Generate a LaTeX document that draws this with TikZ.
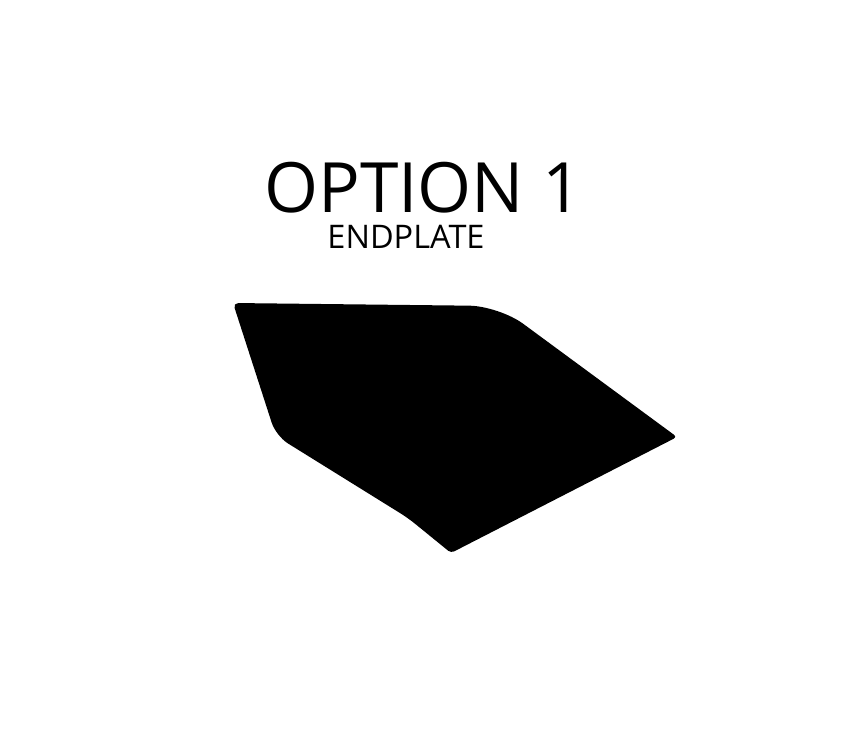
\documentclass[tikz,border=0pt]{standalone}
\usepackage{fontspec}
\setmainfont{Open Sans}
\usetikzlibrary{calc}

\begin{document}
\begin{tikzpicture}[x=0.02cm, y=-0.02cm]
			%%%%% START %%%%%
			
			\useasboundingbox (0, 0) rectangle (862, 744);
			
			\node[anchor=base, inner sep=0, text depth=0pt] (title) at (423, 212) {\fontsize{39.5}{46}\selectfont OPTION 1};
			\node[anchor=base, inner sep=0, text depth=0pt] (subtitle) at (406, 248) {\fontsize{18.5}{22}\selectfont ENDPLATE};
			
			\fill[black, rounded corners=3pt] (233, 303) [rounded corners=17pt] -- (499, 306) [rounded corners=2pt] -- (677, 437) -- (451, 553) [rounded corners=5pt] -- (408, 518) [rounded corners=8pt] -- (276, 436) [rounded corners=3pt] -- cycle;
			
			%%%%% END %%%%%
		\end{tikzpicture}
\end{document}
